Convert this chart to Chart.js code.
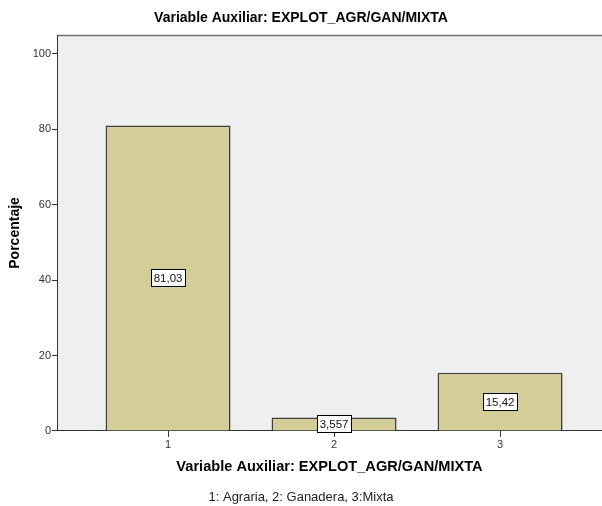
<!DOCTYPE html>
<html>
<head>
<meta charset="utf-8">
<script src="https://cdn.jsdelivr.net/npm/chart.js@4"></script>
<style>
  html, body { margin: 0; padding: 0; background: #ffffff; }
  #wrap { width: 602px; height: 506px; }
</style>
</head>
<body>
<div id="wrap"><canvas id="c" width="602" height="506"></canvas></div>
<script>
// ---- data ----
const categories = [1, 2, 3];
const percentages = [81.03, 3.557, 15.42];
const valueLabels = ['81,03', '3,557', '15,42'];
const yTicks = [0, 20, 40, 60, 80, 100];
const chartTitle = 'Variable Auxiliar: EXPLOT_AGR/GAN/MIXTA';
const xTitle = 'Variable Auxiliar: EXPLOT_AGR/GAN/MIXTA';
const yTitle = 'Porcentaje';
const footnote = '1: Agraria, 2: Ganadera, 3:Mixta';

const FONT = '"Liberation Sans", Arial, sans-serif';

const framePlugin = {
  id: 'frame',
  beforeDraw(chart) {
    const {ctx, chartArea: a} = chart;
    ctx.save();
    ctx.fillStyle = '#efefef';
    ctx.fillRect(a.left, a.top, a.right - a.left, a.bottom - a.top);
    ctx.strokeStyle = '#707070';
    ctx.lineWidth = 1.5;
    ctx.beginPath();
    ctx.moveTo(a.left, a.top + 0.5);
    ctx.lineTo(a.right, a.top + 0.5);
    ctx.stroke();
    ctx.restore();
  }
};

const boxLabelPlugin = {
  id: 'boxLabels',
  afterDatasetsDraw(chart) {
    const {ctx} = chart;
    const meta = chart.getDatasetMeta(0);
    ctx.save();
    ctx.font = '11.5px ' + FONT;
    ctx.textAlign = 'center';
    ctx.textBaseline = 'middle';
    meta.data.forEach((bar, i) => {
      const txt = valueLabels[i];
      const cx = bar.x;
      const cy = (bar.y + bar.base) / 2;
      const w = Math.round(ctx.measureText(txt).width + 5);
      const h = 17;
      const x0 = Math.round(cx - w / 2) + 0.5;
      const y0 = Math.round(cy - h / 2) + 0.5;
      ctx.fillStyle = '#ffffff';
      ctx.fillRect(x0, y0, w, h);
      ctx.strokeStyle = '#000000';
      ctx.lineWidth = 1;
      ctx.strokeRect(x0, y0, w, h);
      ctx.fillStyle = '#111111';
      ctx.fillText(txt, cx, cy + 1);
    });
    ctx.restore();
  }
};

new Chart(document.getElementById('c'), {
  type: 'bar',
  data: {
    datasets: [{
      data: categories.map((c, i) => ({x: c, y: percentages[i]})),
      backgroundColor: '#d3ce97',
      borderColor: '#404040',
      borderWidth: 1.6,
      borderSkipped: 'bottom',
      barPercentage: 0.753,
      categoryPercentage: 1.0
    }]
  },
  options: {
    responsive: false,
    animation: false,
    devicePixelRatio: 1,
    layout: { padding: 0 },
    plugins: {
      legend: { display: false },
      tooltip: { enabled: false },
      title: {
        display: true,
        text: chartTitle,
        color: '#000000',
        font: { family: FONT, size: 14, weight: 'bold' },
        padding: { top: 10, bottom: 8.2 }
      },
      subtitle: {
        display: true,
        position: 'bottom',
        text: footnote,
        color: '#222222',
        align: 'center',
        font: { family: FONT, size: 13, weight: 'normal' },
        padding: { top: 0, bottom: 0.5 }
      }
    },
    scales: {
      x: {
        type: 'linear',
        min: 0.331,
        max: 3.614,
        offset: false,
        afterBuildTicks(scale) { scale.ticks = categories.map(v => ({value: v})); },
        afterFit(scale) { scale.height = 59; },
        grid: { offset: false, drawOnChartArea: false, drawTicks: true, tickLength: 6, color: '#333333', tickColor: '#333333' },
        border: { display: true, color: '#333333', width: 1 },
        ticks: {
          color: '#333333',
          padding: 1,
          maxRotation: 0,
          autoSkip: false,
          font: { family: FONT, size: 11 },
          callback: v => String(v)
        },
        title: {
          display: true,
          text: xTitle,
          color: '#000000',
          font: { family: FONT, size: 14.6, weight: 'bold' },
          padding: { top: 0, bottom: 14 }
        }
      },
      y: {
        min: 0,
        max: 105,
        afterBuildTicks(scale) { scale.ticks = yTicks.map(v => ({value: v})); },
        afterFit(scale) { scale.width = 57; },
        grid: { drawOnChartArea: false, drawTicks: true, tickLength: 5, color: '#333333', tickColor: '#333333' },
        border: { display: true, color: '#333333', width: 1 },
        ticks: {
          color: '#333333',
          padding: 1,
          font: { family: FONT, size: 11 }
        },
        title: {
          display: true,
          text: yTitle,
          color: '#000000',
          font: { family: FONT, size: 14, weight: 'bold' },
          padding: { top: 6.6, bottom: 0 }
        }
      }
    }
  },
  plugins: [framePlugin, boxLabelPlugin]
});
</script>
</body>
</html>
